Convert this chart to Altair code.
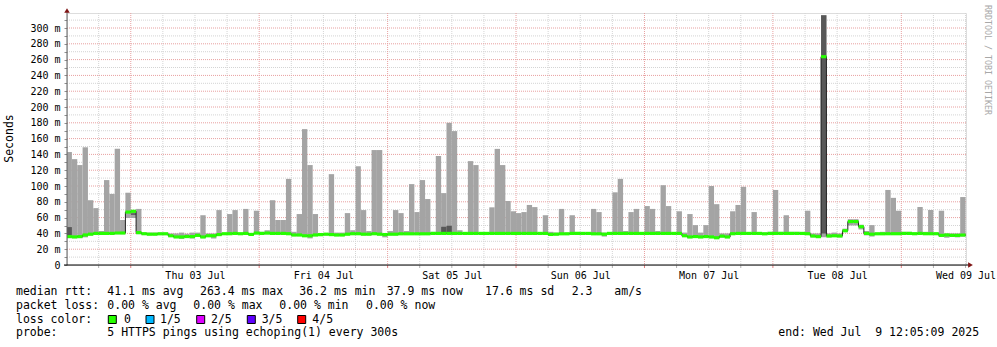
import altair as alt
import pandas as pd
from datetime import datetime, timedelta

# ---------------- data (hourly buckets, ms) ----------------
bar_max = [143, 134, 126.5, 149, 82, 72, 43, 107.5, 90, 147, 57, 91.5,
           69, 71, 41, 41, 41, 41, 41, 40, 40, 41, 39.6, 41,
           41, 63, 40, 40, 69.5, 40, 64.5, 69.5, 40, 71, 40, 68.7,
           42, 44, 82, 57, 57, 109, 42, 64.5, 172, 126.5, 64.5, 40,
           40, 115, 41, 41, 65.7, 44, 125, 69.5, 43, 145.5, 145.5, 40,
           43, 69.5, 65.7, 43, 102.4, 67, 107.5, 83.5, 42, 138, 91, 180,
           169.5, 44, 41, 131.5, 126.5, 40, 41, 73, 147, 126.5, 81, 68,
           65.7, 67, 76, 73.3, 41, 63, 42, 41, 71, 41, 63, 41,
           41, 41, 71, 67, 41, 41, 92, 109, 43, 67, 71, 41,
           74.6, 71, 43, 101, 74.6, 41, 68, 41, 64.5, 50.5, 41, 50.5,
           100, 77, 40, 40, 68, 76, 99, 41, 67, 41, 41, 42,
           95, 42, 63, 42, 42, 41, 68.7, 40, 40, 316, 40, 41,
           40, 46, 58, 58, 51, 43, 50.5, 41, 42, 95, 85, 68.7,
           42, 42, 41, 73.4, 42, 69.6, 41, 68.7, 40, 40, 40, 86]

bar_median = [36, 35.5, 36, 38, 39, 40, 40, 40, 40, 40.5, 40.5, 67,
              68, 41, 39.6, 39, 39, 39.5, 39.5, 37, 35.5, 35.5, 36, 36,
              37.5, 35.5, 37, 37, 38.5, 39.6, 39.6, 40, 39.6, 40, 38.7, 40.4,
              40, 40.4, 40, 40, 40, 39.6, 38, 38, 37, 37, 38, 38.5,
              39, 38.5, 38, 38, 39, 39.6, 39.6, 39, 39, 39.6, 39, 38.5,
              39, 39, 39.5, 39.5, 39.5, 39.5, 39.5, 39.5, 40, 40, 40, 40,
              40, 40, 40, 40, 40, 40, 40, 40, 40, 40, 40, 40,
              40, 40, 40, 40, 40, 40, 38.7, 39, 39.5, 39.5, 40, 40,
              40, 40, 39.5, 39.5, 39, 40, 40, 40, 40, 40, 40, 40,
              40, 40, 40, 40, 40, 40, 40, 37, 35.5, 36, 35.5, 36,
              35.5, 34.5, 36.5, 35.5, 39.6, 40, 40, 40, 40, 40, 39.5, 40,
              40, 40, 40, 40, 40, 40, 39.6, 36.7, 35.9, 263.7, 36.7, 37,
              36.7, 43.4, 55, 55, 48.5, 40, 39, 39.5, 39.5, 39.6, 39.6, 39.6,
              40, 40, 39.6, 40, 39.6, 39.6, 39.6, 37.5, 38, 37.5, 37.5, 37.9]

bar_min = [34, 34, 34, 35, 37.5, 38.5, 38.5, 38.5, 38.5, 39, 39, 59.5,
           59.5, 39, 38, 37.5, 37.5, 38, 38, 35.5, 34.5, 33, 34.5, 33.5,
           36, 34, 35.5, 33.5, 37, 38, 38, 38.5, 38, 38.5, 37, 39,
           38.5, 39, 38.5, 38.5, 38.5, 38, 36.5, 36.5, 35.5, 33.7, 36.5, 37,
           37.5, 37, 36.5, 36.5, 37.5, 38, 38, 37.5, 37.5, 38, 37.5, 35,
           37.5, 37.5, 38, 38, 38, 38, 38, 38, 38.5, 38.5, 38.5, 38.5,
           38.5, 38.5, 38.5, 38.5, 38.5, 38.5, 38.5, 38.5, 38.5, 38.5, 38.5, 38.5,
           38.5, 38.5, 38.5, 38.5, 38.5, 38.5, 37, 37.5, 38, 38, 38.5, 38.5,
           38.5, 38.5, 38, 38, 36, 38.5, 38.5, 38.5, 38.5, 38.5, 38.5, 38.5,
           38.5, 38.5, 38.5, 38.5, 38.5, 38.5, 38.5, 35.5, 34, 34.5, 34, 34.5,
           34, 33.5, 35, 34, 38, 38.5, 38.5, 38.5, 38.5, 38.5, 38, 38.5,
           38.5, 38.5, 38.5, 38.5, 38.5, 38.5, 38, 35, 34.5, 35, 35, 35.5,
           35, 41.5, 50, 50, 45, 37.5, 36, 38, 38, 38, 38, 38,
           38.5, 38.5, 38, 38.5, 38, 38, 38, 35.5, 34.5, 35.5, 35, 36]

dark_index = [0, 12, 70, 71, 141]
dark_low = [38, 63.5, 40, 40, 40]
dark_high = [48, 65.5, 48.4, 49.7, 316]

y_tick_values = list(range(0, 320, 10))

line1 = ["median rtt:", "41.1 ms avg", "263.4 ms max", "36.2 ms min",
         "37.9 ms now", "17.6 ms sd", "2.3", "am/s"]
line2 = ["packet loss:", "0.00 % avg", "0.00 % max", "0.00 % min", "0.00 % now"]
loss_title = "loss color:"
loss_labels = ["0", "1/5", "2/5", "3/5", "4/5"]
loss_colors = ["#26ff00", "#00b8ff", "#dd00ff", "#5e00ff", "#ff0000"]
probe_texts = ["probe:", "5 HTTPS pings using echoping(1) every 300s"]
end_text = "end: Wed Jul\u00a0 9 12:05:09 2025"
y_title = "Seconds"
watermark = "RRDTOOL / TOBI OETIKER"

# ---------------- layout constants ----------------
W, H = 899, 252
PAD_L, PAD_T = 67, 13
FONT = "DejaVu Sans Mono"
LEG_SIZE = 11.5


def iso(t):
    return t.strftime("%Y-%m-%dT%H:%M:%SZ")


def dt(t):
    return alt.DateTime(year=t.year, month=t.month, date=t.day, hours=t.hour,
                        minutes=t.minute, seconds=t.second, utc=True)


first_hour = datetime(2025, 7, 2, 12, 0, 0)
t_start = datetime(2025, 7, 2, 12, 5, 9)
t_end = datetime(2025, 7, 9, 12, 5, 9)

n = len(bar_max)
bars = pd.DataFrame({
    "start": [iso(first_hour + timedelta(hours=k)) for k in range(n)],
    "end": [iso(first_hour + timedelta(hours=k + 1)) for k in range(n)],
    "hi": bar_max, "med": bar_median, "lo": bar_min,
})
dark = pd.DataFrame({
    "start": [iso(first_hour + timedelta(hours=k)) for k in dark_index],
    "end": [iso(first_hour + timedelta(hours=k + 1)) for k in dark_index],
    "dlo": dark_low, "dhi": dark_high,
})
line_df = pd.DataFrame({
    "start": list(bars["start"]) + [iso(t_end)],
    "med": bar_median + [bar_median[-1]],
})

gt, gm = [], []
t = datetime(2025, 7, 2, 18, 0, 0)
while t < t_end:
    gt.append(iso(t))
    gm.append(t.hour == 0)
    t += timedelta(hours=6)
vgrid = pd.DataFrame({"t": gt, "major": gm})
hgrid = pd.DataFrame({"v": y_tick_values[1:]})
hgrid["major"] = hgrid["v"] % 20 == 0

xscale = alt.Scale(type="utc", domain=[dt(t_start), dt(t_end)])
yscale = alt.Scale(domain=[0, 319], nice=False, zero=True)
noons = [dt(datetime(2025, 7, d, 12, 0, 0)) for d in range(3, 10)]
xaxis = alt.Axis(values=noons, labelExpr="utcFormat(datum.value, '%a %d %b')",
                 ticks=False, domain=False, grid=False, labelFont=FONT,
                 labelFontSize=10, labelColor="#000", labelPadding=5,
                 labelFlush=False, labelOverlap=False, labelBound=False, title=None)
yaxis = alt.Axis(values=y_tick_values,
                 labelExpr="datum.value == 0 ? '0\u00a0\u00a0' : (datum.value % 20 == 0 ? datum.value + ' m' : '')",
                 tickSize=3, tickColor="#909090", domain=False, grid=False,
                 labelFont=FONT, labelFontSize=10, labelColor="#000",
                 labelPadding=4, labelOverlap=False, title=None)


def X(f):
    return alt.X(f, scale=xscale, axis=xaxis)


def Y(f):
    return alt.Y(f, scale=yscale, axis=yaxis)


one = pd.DataFrame({"a": [0]})
layers = []

# grid
layers.append(alt.Chart(hgrid[~hgrid["major"]]).mark_rule(color="#d4d4d4", strokeDash=[1, 1])
              .encode(y=Y("v:Q")))
layers.append(alt.Chart(vgrid[~vgrid["major"]]).mark_rule(color="#d4d4d4", strokeDash=[1, 1])
              .encode(x=X("t:T")))
layers.append(alt.Chart(hgrid[hgrid["major"]]).mark_rule(color="#e8a0a0", strokeDash=[1, 1])
              .encode(y=Y("v:Q")))
layers.append(alt.Chart(vgrid[vgrid["major"]]).mark_rule(color="#e8a0a0", strokeDash=[1, 1])
              .encode(x=X("t:T")))
# x ticks below axis
layers.append(alt.Chart(vgrid[~vgrid["major"]]).mark_rule(color="#b0b0b0")
              .encode(x=X("t:T"), y=alt.value(H), y2=alt.value(H + 3)))
layers.append(alt.Chart(vgrid[vgrid["major"]]).mark_rule(color="#e08080")
              .encode(x=X("t:T"), y=alt.value(H), y2=alt.value(H + 3)))

# smoke
layers.append(alt.Chart(bars).mark_rect(color="#a4a4a4", clip=True)
              .encode(x=X("start:T"), x2="end:T", y=Y("lo:Q"), y2="hi:Q"))
layers.append(alt.Chart(dark).mark_rect(color="#585858", clip=True)
              .encode(x=X("start:T"), x2="end:T", y=Y("dlo:Q"), y2="dhi:Q"))
# median step line
layers.append(alt.Chart(line_df).mark_line(interpolate="step-after", color="#202020",
                                           strokeWidth=1, clip=True)
              .encode(x=X("start:T"), y=Y("med:Q")))
# loss-colored median band
layers.append(alt.Chart(bars).mark_rect(color="#26ff00", clip=True)
              .transform_calculate(g0="datum.med - 2", g1="datum.med + 2")
              .encode(x=X("start:T"), x2="end:T", y=Y("g0:Q"), y2="g1:Q"))

# axis lines and arrows
layers.append(alt.Chart(one).mark_rule(color="#606060", strokeWidth=1)
              .encode(x=alt.value(0), y=alt.value(H), y2=alt.value(-3)))
layers.append(alt.Chart(one).mark_rule(color="#000000", strokeWidth=1)
              .encode(x=alt.value(-3), x2=alt.value(902), y=alt.value(H)))
layers.append(alt.Chart(one).mark_point(shape="triangle-up", filled=True, color="#7f1515",
                                        size=30, opacity=1)
              .encode(x=alt.value(0), y=alt.value(-2.5)))
layers.append(alt.Chart(one).mark_point(shape="triangle-right", filled=True, color="#7f1515",
                                        size=30, opacity=1)
              .encode(x=alt.value(903.5), y=alt.value(H)))


def txt(s, x, y, size=LEG_SIZE, color="#000", angle=0, align="left"):
    return (alt.Chart(pd.DataFrame({"s": [s]}))
            .mark_text(font=FONT, fontSize=size, color=color, angle=angle,
                       align=align, baseline="middle")
            .encode(text="s:N", x=alt.value(x - PAD_L), y=alt.value(y - PAD_T)))


# legend text
l1_x = [16, 107.3, 200, 299.3, 386.7, 485, 571.7, 614.3]
for s, x in zip(line1, l1_x):
    layers.append(txt(s, x, 291.5))
l2_x = [16, 107.3, 193.3, 279.3, 366]
for s, x in zip(line2, l2_x):
    layers.append(txt(s, x, 305.5))
layers.append(txt(loss_title, 16, 319.5))
sq_x = [108.3, 146, 196.7, 247.3, 297.7]
lab_x = [124, 160, 211, 261.7, 312.3]
for c, lab, sx, lx in zip(loss_colors, loss_labels, sq_x, lab_x):
    layers.append(alt.Chart(one).mark_rect(fill=c, stroke="#000", strokeWidth=1)
                  .encode(x=alt.value(sx - PAD_L), x2=alt.value(sx + 8 - PAD_L),
                          y=alt.value(315.5 - PAD_T), y2=alt.value(323.5 - PAD_T)))
    layers.append(txt(lab, lx, 319.5))
layers.append(txt(probe_texts[0], 16, 333))
layers.append(txt(probe_texts[1], 107.3, 333))
layers.append(txt(end_text, 778.3, 333))

layers.append(txt(y_title, 10, 138.5, size=11.5, angle=270, align="center"))
layers.append(txt(watermark, 987, 60, size=8.3, color="#a8a8a8", angle=90, align="center"))

chart = (alt.layer(*layers)
         .properties(width=W, height=H,
                     autosize=alt.AutoSizeParams(type="none"),
                     padding={"left": PAD_L, "top": PAD_T, "right": 997 - PAD_L - W,
                              "bottom": 347 - PAD_T - H})
         .configure_view(stroke=None)
         .configure(background="white"))

chart.save("out.html", embed_options={"renderer": "svg", "actions": False})
